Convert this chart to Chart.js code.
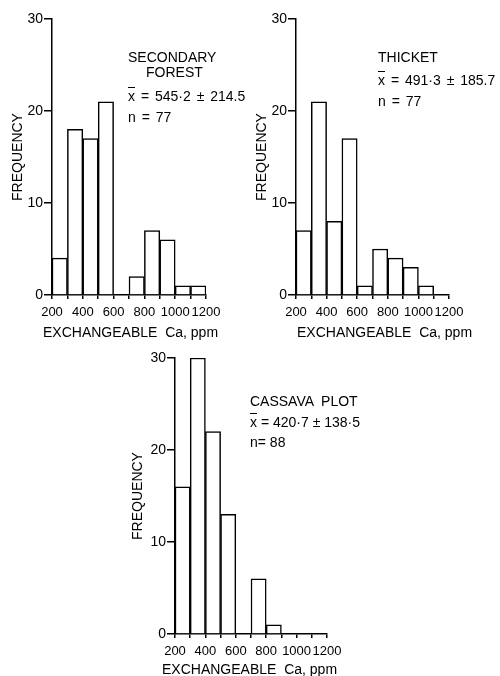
<!DOCTYPE html>
<html>
<head>
<meta charset="utf-8">
<script src="https://cdn.jsdelivr.net/npm/chart.js@4"></script>
<style>
  body { margin: 0; background: #fff; }
  #wrap { position: relative; width: 500px; height: 676px; overflow: hidden; }
  canvas { position: absolute; }
  .note { position: absolute; font: 14px "Liberation Sans", Arial, sans-serif; color: #000; white-space: pre; line-height: 16px; }
  .wide { word-spacing: 2px; }
  .bar { text-decoration: overline; }
</style>
</head>
<body>
<div id="wrap">
  <canvas id="forest" width="250" height="340" style="left:0;top:0"></canvas>
  <canvas id="thicket" width="256" height="340" style="left:244px;top:0"></canvas>
  <canvas id="cassava" width="260" height="336" style="left:120px;top:340px"></canvas>

  <div class="note" style="left:128px;top:49px">SECONDARY</div>
  <div class="note" style="left:146px;top:64px">FOREST</div>
  <div class="note wide" style="left:128px;top:88px"><span class="bar">x</span> = 545·2 ± 214.5</div>
  <div class="note wide" style="left:128px;top:109px">n = 77</div>
  <div class="note" style="left:43px;top:324px">EXCHANGEABLE  Ca, ppm</div>

  <div class="note" style="left:378px;top:49px">THICKET</div>
  <div class="note wide" style="left:378px;top:72px"><span class="bar">x</span> = 491·3 ± 185.7</div>
  <div class="note wide" style="left:378px;top:93px">n = 77</div>
  <div class="note" style="left:297px;top:324px">EXCHANGEABLE  Ca, ppm</div>

  <div class="note" style="left:250px;top:393px">CASSAVA  PLOT</div>
  <div class="note" style="left:250px;top:414px"><span class="bar">x</span> = 420·7 ± 138·5</div>
  <div class="note" style="left:250px;top:434px">n= 88</div>
  <div class="note" style="left:162px;top:661px">EXCHANGEABLE  Ca, ppm</div>
</div>
<script>
// ビンの中心 (ppm)
const binCenters = [250, 350, 450, 550, 650, 750, 850, 950, 1050, 1150];
// 度数
const forestFreq = [4, 18, 17, 21, 0, 2, 7, 6, 1, 1];
const thicketFreq = [7, 21, 8, 17, 1, 5, 4, 3, 1, 0];
const cassavaFreq = [16, 30, 22, 13, 0, 6, 1, 0, 0, 0];
// 目盛りラベル
const xTickLabels = [200, 400, 600, 800, 1000, 1200];
const yTickLabels = [0, 10, 20, 30];

Chart.defaults.font.family = "'Liberation Sans', Arial, sans-serif";
Chart.defaults.font.size = 14;
Chart.defaults.color = "#000";

function makeHist(id, freq, box) {
  const ctx = document.getElementById(id).getContext("2d");
  return new Chart(ctx, {
    type: "bar",
    data: {
      datasets: [{
        data: binCenters.map((c, i) => ({ x: c, y: freq[i] })),
        backgroundColor: "#fff",
        borderColor: "#000",
        borderWidth: 1.5,
        barPercentage: 1,
        categoryPercentage: 1,
      }],
    },
    options: {
      responsive: false,
      animation: false,
      layout: { padding: { left: 0, top: box.top, right: box.right, bottom: 0 } },
      plugins: { legend: { display: false }, tooltip: { enabled: false } },
      scales: {
        x: {
          type: "linear",
          min: 200,
          max: 1200,
          offset: false,
          grid: { offset: false, drawOnChartArea: false, color: "#000", lineWidth: 1.5, tickLength: 4 },
          border: { color: "#000", width: 1.5 },
          ticks: {
            stepSize: 100,
            autoSkip: false,
            maxRotation: 0,
            padding: 6,
            font: { size: 13 },
            callback: (v) => (xTickLabels.includes(v) ? String(v) : ""),
          },
          afterFit: (s) => { s.height = box.axisH; },
        },
        y: {
          min: 0,
          max: 30,
          grid: { drawOnChartArea: false, color: "#000", lineWidth: 1.5, tickLength: 8 },
          border: { color: "#000", width: 1.5 },
          ticks: {
            stepSize: 10,
            padding: 1,
            callback: (v) => (yTickLabels.includes(v) ? String(v) : ""),
          },
          title: { display: true, text: "FREQUENCY", padding: { top: 10, bottom: 0 } },
          afterFit: (s) => { s.width = box.axisW; },
        },
      },
    },
  });
}

makeHist("forest", forestFreq, { top: 19, right: 44, axisW: 52, axisH: 45 });
makeHist("thicket", thicketFreq, { top: 19, right: 51, axisW: 52, axisH: 45 });
makeHist("cassava", cassavaFreq, { top: 18, right: 53, axisW: 55, axisH: 42 });
</script>
</body>
</html>
